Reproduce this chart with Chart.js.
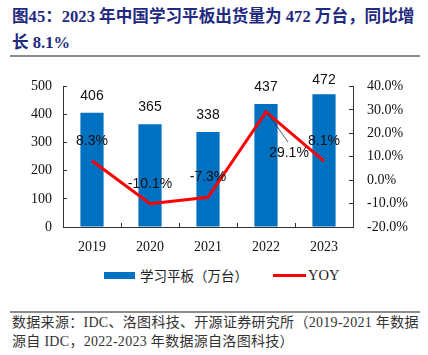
<!DOCTYPE html>
<html>
<head>
<meta charset="utf-8">
<script src="https://cdn.jsdelivr.net/npm/chart.js@4"></script>
<style>
  html, body { margin: 0; padding: 0; background: #fff; }
  body { width: 428px; height: 355px; position: relative; overflow: hidden; }
  .title { position: absolute; left: 12px; top: 4px; font-family: "Liberation Serif", "Noto Sans CJK SC", serif; font-weight: bold; font-size: 16.6px; line-height: 26px; color: #1F2A80; white-space: nowrap; }
  .rule { position: absolute; left: 10px; width: 410px; height: 2px; background: #8c8c8c; }
  .source { position: absolute; left: 12px; top: 313px; font-family: "Liberation Serif", "Noto Sans CJK SC", serif; font-size: 14px; line-height: 19px; color: #333; white-space: nowrap; letter-spacing: 0.3px; }
  #wrap { position: absolute; left: 0; top: 60px; width: 428px; height: 200px; }
  .legend { position: absolute; top: 266px; left: 0; width: 428px; height: 18px; font-size: 13.5px; color: #222; }
  .legend .item { position: absolute; top: 0; height: 18px; line-height: 18px; white-space: nowrap; }
  .legend .sw { position: absolute; }
  .legend .txt { position: absolute; top: 0; }
</style>
</head>
<body>
<div class="title">图45：2023 年中国学习平板出货量为 472 万台，同比增<br>长 8.1%</div>
<div class="rule" style="top:55px"></div>
<div id="wrap"><canvas id="c" width="428" height="200"></canvas></div>
<div class="legend" id="legend"></div>
<div class="rule" style="top:311px"></div>
<div class="source">数据来源：IDC、洛图科技、开源证券研究所（2019-2021 年数据<br>源自 IDC，2022-2023 年数据源自洛图科技）</div>
<script>
const categories = ["2019", "2020", "2021", "2022", "2023"];
const shipments = [406, 365, 338, 437, 472];
const yoy = [8.3, -10.1, -7.3, 29.1, 8.1];
const seriesNames = ["学习平板（万台）", "YOY"];
const leftTicks = [0, 100, 200, 300, 400, 500];
const rightTicks = [-20, -10, 0, 10, 20, 30, 40];

const BAR = "#0070C0";
const LINE = "#FF0000";
const AXIS = "#333333";

const labelPlugin = {
  id: "valueLabels",
  afterDatasetsDraw(chart) {
    const ctx = chart.ctx;
    ctx.save();
    ctx.font = "14px 'Liberation Sans', Arial, sans-serif";
    ctx.fillStyle = "#111";
    ctx.textAlign = "center";
    ctx.textBaseline = "middle";
    const barMeta = chart.getDatasetMeta(0);
    barMeta.data.forEach((el, i) => {
      let y = el.y - 17;
      if (y < 20) y = 20;
      ctx.fillText(String(shipments[i]), el.x, y);
    });
    const lineMeta = chart.getDatasetMeta(1);
    lineMeta.data.forEach((el, i) => {
      const txt = yoy[i].toFixed(1) + "%";
      if (i === 3) {
        ctx.strokeStyle = "#333";
        ctx.lineWidth = 0.8;
        ctx.beginPath();
        ctx.moveTo(el.x + 2, el.y + 2);
        ctx.lineTo(el.x + 22, el.y + 30);
        ctx.stroke();
        ctx.fillText(txt, el.x + 23, el.y + 41);
      } else {
        ctx.fillText(txt, el.x, el.y - 20);
      }
    });
    ctx.restore();
  }
};

const tickFont = { family: "'Liberation Serif', 'Times New Roman', serif", size: 14 };

new Chart(document.getElementById("c"), {
  data: {
    labels: categories,
    datasets: [
      {
        type: "bar",
        label: seriesNames[0],
        data: shipments,
        backgroundColor: BAR,
        borderWidth: 0,
        barPercentage: 0.4,
        categoryPercentage: 1.0,
        yAxisID: "y",
        order: 2
      },
      {
        type: "line",
        label: seriesNames[1],
        data: yoy,
        borderColor: LINE,
        backgroundColor: LINE,
        borderWidth: 3,
        pointRadius: 0,
        tension: 0,
        yAxisID: "y1",
        order: 1
      }
    ]
  },
  options: {
    responsive: false,
    devicePixelRatio: 1,
    animation: false,
    layout: { padding: { top: 25, left: 0, right: 0, bottom: 0 } },
    plugins: { legend: { display: false }, title: { display: false }, tooltip: { enabled: false } },
    scales: {
      x: {
        grid: { display: true, offset: true, drawOnChartArea: false, drawTicks: true, tickLength: -4, color: AXIS },
        border: { display: true, color: AXIS, width: 1 },
        ticks: { font: tickFont, color: "#111", padding: 16, maxRotation: 0 },
        afterFit(s) { s.height = 33; }
      },
      y: {
        position: "left",
        min: 0, max: 500,
        afterBuildTicks(s) { s.ticks = leftTicks.map(v => ({ value: v })); },
        grid: { display: true, drawOnChartArea: false, drawTicks: true, tickLength: -4, color: AXIS },
        border: { display: true, color: AXIS, width: 1 },
        ticks: { font: tickFont, color: "#111", padding: 15 },
        afterFit(s) { s.width = 63; }
      },
      y1: {
        position: "right",
        min: -20, max: 40,
        afterBuildTicks(s) { s.ticks = rightTicks.map(v => ({ value: v })); },
        grid: { display: true, drawOnChartArea: false, drawTicks: true, tickLength: -4, color: AXIS },
        border: { display: true, color: AXIS, width: 1 },
        ticks: { font: tickFont, color: "#111", padding: 18, callback: v => Number(v).toFixed(1) + "%" },
        afterFit(s) { s.width = 75; }
      }
    }
  },
  plugins: [labelPlugin]
});

// HTML legend built from the series names / colours
const lg = document.getElementById("legend");
lg.innerHTML =
  '<div class="item" style="left:104px"><div class="sw" style="left:0;top:6px;width:31px;height:7px;background:' + BAR + '"></div>' +
  '<div class="txt" style="left:36px;font-family:\'Noto Sans CJK SC\',sans-serif;">' + seriesNames[0] + '</div></div>' +
  '<div class="item" style="left:273px"><div class="sw" style="left:0;top:8px;width:33px;height:3px;background:' + LINE + '"></div>' +
  '<div class="txt" style="left:35px;font-family:\'Liberation Serif\',serif;font-size:14.5px;">' + seriesNames[1] + '</div></div>';
</script>
</body>
</html>
